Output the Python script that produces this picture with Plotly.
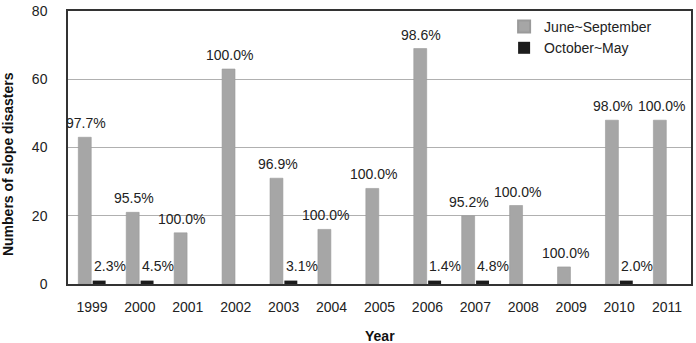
import plotly.graph_objects as go

# Slope disasters per year, split by season
years = ["1999", "2000", "2001", "2002", "2003", "2004", "2005",
         "2006", "2007", "2008", "2009", "2010", "2011"]
june_sep = [43, 21, 15, 63, 31, 16, 28, 69, 20, 23, 5, 48, 48]
oct_may = [1, 1, 0, 0, 1, 0, 0, 1, 1, 0, 0, 1, 0]

GRAY = "#a6a6a6"
BLACK = "#1c1c1c"
FONT = "Liberation Sans, Arial, sans-serif"

fig = go.Figure()
fig.add_bar(x=years, y=june_sep, name="June~September",
            marker=dict(color=GRAY, line=dict(color="#9a9a9a", width=0.6)))
fig.add_bar(x=years, y=oct_may, name="October~May",
            marker=dict(color=BLACK, line=dict(width=0)))

# Share of each season in the yearly total (x given as category index)
annotations = []
for i, (a, b) in enumerate(zip(june_sep, oct_may)):
    total = a + b
    annotations.append(dict(
        x=i, y=a, xref="x", yref="y", text=f"{a / total * 100:.1f}%",
        showarrow=False, xanchor="center", yanchor="bottom",
        xshift=-6, yshift=4, font=dict(size=14, color="#222", family=FONT)))
    if b > 0:
        annotations.append(dict(
            x=i, y=b, xref="x", yref="y", text=f"{b / total * 100:.1f}%",
            showarrow=False, xanchor="center", yanchor="bottom",
            xshift=18, yshift=5, font=dict(size=14, color="#222", family=FONT)))

# Axis titles
annotations.append(dict(
    x=-0.096, y=0.44, xref="paper", yref="paper", text="<b>Numbers of slope disasters</b>",
    textangle=-90, showarrow=False, xanchor="center", yanchor="middle",
    font=dict(size=14, color="#111", family=FONT)))
annotations.append(dict(
    x=0.5, y=-0.19, xref="paper", yref="paper", text="<b>Year</b>",
    showarrow=False, xanchor="center", yanchor="middle",
    font=dict(size=14, color="#111", family=FONT)))

fig.update_layout(
    width=696, height=343,
    margin=dict(l=68, r=3, t=7, b=59),
    paper_bgcolor="white", plot_bgcolor="white",
    barmode="group", bargap=0.4, bargroupgap=0.1,
    font=dict(family=FONT, size=14, color="#222"),
    showlegend=True,
    legend=dict(x=0.70, y=1.0, xanchor="left", yanchor="top",
                bgcolor="rgba(0,0,0,0)", font=dict(size=14, color="#222"),
                tracegroupgap=0, itemsizing="constant"),
    annotations=annotations,
)
fig.update_xaxes(
    type="category", range=[-0.5, len(years) - 0.5], autorange=False,
    showline=True, linecolor="#333", linewidth=1.5, mirror=True,
    ticks="", ticklabelstandoff=9, tickfont=dict(size=14, color="#222"),
    showgrid=False,
)
fig.update_yaxes(
    range=[0, 80], autorange=False, tickvals=[0, 20, 40, 60, 80], showline=True,
    linecolor="#333", linewidth=1.5, mirror=True, ticks="", ticklabelstandoff=16,
    ticklabeloverflow="allow", tickfont=dict(size=14, color="#222"),
    showgrid=True, gridcolor="#b0b0b0", gridwidth=1, zeroline=False,
)

fig.write_html("out.html")
